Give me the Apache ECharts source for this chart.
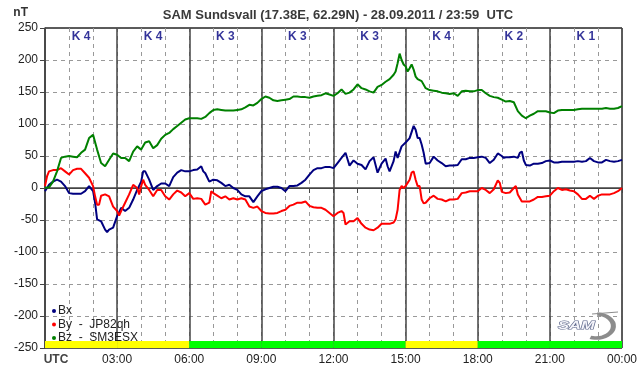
<!DOCTYPE html>
<html>
<head>
<meta charset="utf-8">
<script src="https://cdn.jsdelivr.net/npm/echarts@6/dist/echarts.min.js"></script>
<style>
  html, body { margin: 0; padding: 0; background: #fff; }
  #chart { width: 642px; height: 376px; }
</style>
</head>
<body>
<div id="chart"></div>
<script>
// minutes since 00:00 UTC, value in nT
const bxData = [[0,-5],[10,5],[20,10],[30,13],[40,10],[50,3],[60,-8],[70,-9],[80,-9],[90,-9],[100,-5],[110,3],[120,-5],[125,-23],[130,-49],[140,-52],[150,-65],[155,-69],[160,-65],[170,-62],[180,-44],[190,-31],[200,-36],[210,-31],[220,-18],[230,-3],[240,10],[245,26],[250,26],[260,13],[270,-3],[280,3],[290,7],[300,7],[310,3],[320,17],[330,24],[340,28],[350,26],[360,26],[370,28],[380,29],[390,34],[395,26],[400,23],[410,10],[420,13],[430,12],[440,8],[450,3],[460,5],[470,0],[480,-3],[490,-10],[500,-13],[510,-13],[520,-22],[530,-13],[540,-5],[550,-2],[560,0],[570,2],[580,2],[590,0],[600,-5],[610,3],[620,3],[630,4],[640,8],[650,13],[660,21],[670,28],[680,31],[690,31],[700,33],[710,33],[720,31],[730,39],[740,47],[750,55],[755,45],[760,35],[770,43],[780,38],[790,36],[800,29],[810,42],[820,48],[830,24],[840,38],[850,46],[855,34],[860,26],[870,42],[875,57],[880,47],[890,65],[900,71],[910,78],[920,97],[925,91],[930,78],[935,78],[940,68],[945,55],[950,38],[960,39],[970,49],[980,43],[990,39],[1000,34],[1010,35],[1020,35],[1030,36],[1040,45],[1050,45],[1060,47],[1070,47],[1080,48],[1090,49],[1100,47],[1110,39],[1120,44],[1130,54],[1140,50],[1145,47],[1150,48],[1160,48],[1170,49],[1180,47],[1185,55],[1190,57],[1195,43],[1200,36],[1210,35],[1220,38],[1230,38],[1240,39],[1250,42],[1260,43],[1270,40],[1280,40],[1290,41],[1300,41],[1310,41],[1320,41],[1330,42],[1340,41],[1350,42],[1360,47],[1370,42],[1380,40],[1390,40],[1400,44],[1410,42],[1420,41],[1430,42],[1440,44]];

const byData = [[0,3],[5,18],[10,26],[20,28],[30,28],[40,31],[50,26],[60,21],[70,28],[80,30],[90,30],[100,23],[110,16],[120,3],[125,-13],[130,-26],[135,-26],[140,-12],[150,-10],[160,-13],[170,-29],[180,-36],[185,-43],[190,-36],[200,-23],[210,-10],[220,5],[230,0],[235,-10],[240,3],[245,13],[250,5],[260,-3],[270,-13],[280,-3],[290,-3],[300,-13],[310,-18],[320,-10],[330,-4],[340,-7],[350,-13],[360,-8],[370,-17],[380,-16],[390,-17],[400,-26],[410,-23],[415,-5],[420,-8],[430,-12],[440,-16],[450,-13],[460,-18],[470,-16],[480,-18],[490,-16],[500,-18],[510,-29],[520,-31],[530,-29],[540,-36],[550,-39],[560,-40],[570,-40],[580,-39],[590,-36],[600,-34],[610,-28],[620,-26],[630,-23],[640,-23],[650,-21],[660,-28],[670,-30],[680,-31],[690,-31],[700,-34],[710,-39],[720,-44],[730,-39],[740,-36],[745,-39],[750,-57],[760,-52],[770,-52],[780,-47],[790,-56],[800,-62],[810,-65],[820,-66],[830,-62],[840,-56],[850,-56],[860,-56],[870,-54],[875,-49],[880,-34],[885,-3],[890,3],[895,0],[900,3],[905,8],[910,13],[915,24],[920,26],[925,13],[930,3],[935,3],[940,-18],[945,-24],[950,-23],[960,-16],[970,-12],[980,-17],[990,-18],[1000,-21],[1010,-18],[1020,-18],[1030,-17],[1040,-8],[1050,-7],[1060,-5],[1070,-5],[1080,-5],[1090,0],[1100,-3],[1110,-8],[1120,-2],[1130,12],[1135,8],[1140,-6],[1150,-8],[1160,-7],[1170,0],[1175,3],[1180,-10],[1190,-21],[1200,-21],[1210,-21],[1220,-18],[1230,-14],[1240,-14],[1250,-13],[1260,-12],[1270,-5],[1280,0],[1290,-3],[1300,-2],[1310,-4],[1320,-5],[1330,-10],[1340,-17],[1350,-17],[1360,-12],[1370,-17],[1380,-12],[1390,-10],[1400,-10],[1410,-10],[1420,-8],[1430,-5],[1440,0]];

const bzData = [[0,0],[10,1],[20,10],[30,26],[40,47],[50,49],[60,50],[70,49],[80,48],[90,55],[100,60],[110,78],[120,83],[130,60],[140,39],[150,34],[160,44],[170,54],[180,52],[190,47],[200,47],[210,42],[220,57],[230,65],[240,60],[250,71],[260,73],[270,62],[280,67],[290,77],[300,83],[310,86],[320,92],[330,97],[340,102],[350,107],[360,109],[370,109],[380,109],[390,108],[400,111],[410,117],[420,122],[430,123],[440,122],[450,121],[460,121],[470,121],[480,122],[490,123],[500,126],[510,130],[520,129],[530,133],[540,139],[550,143],[560,141],[570,137],[580,136],[590,137],[600,138],[610,139],[620,143],[630,143],[640,142],[650,142],[660,141],[670,143],[680,144],[690,145],[700,148],[710,146],[720,144],[730,148],[740,154],[750,147],[760,149],[770,154],[780,162],[790,156],[800,154],[810,151],[820,149],[830,158],[840,161],[850,166],[860,170],[870,177],[875,182],[880,195],[885,210],[890,200],[895,193],[900,190],[905,182],[910,187],[915,193],[920,185],[925,174],[930,170],[940,167],[950,156],[960,153],[970,152],[980,151],[990,149],[1000,148],[1010,147],[1020,148],[1030,144],[1040,151],[1050,152],[1060,151],[1070,151],[1080,153],[1090,153],[1100,148],[1110,144],[1120,142],[1130,141],[1140,138],[1150,135],[1160,136],[1170,134],[1180,120],[1190,113],[1200,109],[1210,113],[1220,116],[1230,120],[1240,120],[1250,120],[1260,118],[1270,117],[1280,121],[1290,122],[1300,122],[1310,122],[1320,122],[1330,123],[1340,124],[1350,124],[1360,124],[1370,124],[1380,124],[1390,124],[1400,125],[1410,124],[1420,124],[1430,125],[1440,128]];

// K index per 3-hour block
const kIndex = [4, 4, 3, 3, 3, 4, 2, 1];
const seriesNames = ['Bx', 'By', 'Bz'];
const legendLabels = { Bx: 'Bx', By: 'By  -  JP82qh', Bz: 'Bz  -  SM3ESX' };

const font = "'Liberation Sans', Arial, sans-serif";
const chart = echarts.init(document.getElementById('chart'));

function hhmm(v) {
    const h = Math.round(v / 60) % 24;
    return (h < 10 ? '0' : '') + h + ':00';
}

const option = {
    animation: false,
    backgroundColor: '#fff',
    textStyle: { fontFamily: font },
    title: {
        text: 'SAM Sundsvall (17.38E, 62.29N) - 28.09.2011 / 23:59  UTC',
        left: 333,
        top: 4,
        textAlign: 'center',
        textStyle: { fontSize: 13, fontWeight: 'bold', color: '#3a3a3a', fontFamily: font }
    },
    grid: {
        left: 45, right: 20, top: 28, bottom: 28,
        show: true, borderColor: '#444', borderWidth: 1
    },
    legend: {
        orient: 'vertical',
        left: 47,
        top: 300,
        itemWidth: 4,
        itemHeight: 4,
        itemGap: 1.5,
        icon: 'circle',
        data: seriesNames,
        formatter: function (name) { return legendLabels[name]; },
        textStyle: { fontSize: 12, color: '#222', lineHeight: 12, fontFamily: font, padding: [0, 0, 0, -3] }
    },
    xAxis: [
        {
            type: 'value', min: 0, max: 1440, interval: 60,
            axisLine: { lineStyle: { color: '#444', width: 1 } },
            axisTick: { show: true, length: 5, lineStyle: { color: '#444' } },
            axisLabel: {
                color: '#222', fontSize: 12, margin: 6, showMaxLabel: true,
                formatter: function (v) {
                    if (v === 0) return '{b|UTC}';
                    if (v % 180 !== 0) return '';
                    return hhmm(v);
                },
                rich: { b: { fontWeight: 'bold', fontSize: 12, color: '#444', padding: [0, 0, 0, 22] } }
            },
            splitLine: { show: true, lineStyle: { color: '#999', type: [4, 4], width: 1 } }
        },
        {
            type: 'value', min: 0, max: 1440, interval: 180, position: 'bottom',
            axisLine: { show: false }, axisTick: { show: false }, axisLabel: { show: false },
            splitLine: { show: true, lineStyle: { color: '#444', width: 1.5 } }
        }
    ],
    yAxis: [
        {
            type: 'value', min: -250, max: 250, interval: 50,
            name: 'nT',
            nameLocation: 'end',
            nameGap: 9,
            nameTextStyle: { fontWeight: 'bold', fontSize: 12, color: '#333', align: 'right', padding: [0, 17, 0, 0] },
            axisLine: { show: true, lineStyle: { color: '#444', width: 1.5 } },
            axisTick: { show: true, length: 5, lineStyle: { color: '#444' } },
            axisLabel: { color: '#222', fontSize: 12, margin: 7 },
            splitLine: { show: true, lineStyle: { color: '#999', type: [4, 4], width: 1 } }
        },
        {
            type: 'value', min: -250, max: 250, interval: 250, position: 'left',
            axisLine: { show: false }, axisTick: { show: false }, axisLabel: { show: false },
            splitLine: { show: true, lineStyle: { color: '#444', width: 1.5 } }
        }
    ],
    series: [
        {
            name: 'Bx', type: 'line', data: bxData, showSymbol: false, z: 5,
            color: '#000080', lineStyle: { width: 2 },
            markArea: {
                silent: true,
                data: kIndex.map(function (k, i) {
                    return [
                        { xAxis: 180 * i, yAxis: -250, itemStyle: { color: k >= 4 ? '#ffff00' : '#00ff00', opacity: 1 } },
                        { xAxis: 180 * (i + 1), yAxis: -239 }
                    ];
                })
            }
        },
        { name: 'By', type: 'line', data: byData, showSymbol: false, z: 5, color: '#ff0000', lineStyle: { width: 2 } },
        { name: 'Bz', type: 'line', data: bzData, showSymbol: false, z: 5, color: '#008000', lineStyle: { width: 2 } },
        {
            name: 'K', type: 'scatter', symbolSize: 0, silent: true,
            data: kIndex.map(function (k, i) { return [90 + 180 * i, 236, k]; }),
            label: {
                show: true, position: 'inside',
                formatter: function (p) { return 'K ' + p.value[2]; },
                color: '#000080', fontWeight: 'bold', fontSize: 12, fontFamily: font
            }
        }
    ],
    graphic: [
        {
            type: 'arc', x: 596, y: 326, scaleX: 1.45, z: 10,
            shape: { cx: 0, cy: 0, r: 12, startAngle: -1.5, endAngle: 1.9 },
            style: { stroke: '#8c8c8c', lineWidth: 3.5, fill: null }
        },
        {
            type: 'line', z: 10,
            shape: { x1: 592, y1: 314, x2: 618, y2: 312 },
            style: { stroke: '#8c8c8c', lineWidth: 1 }
        },
        {
            type: 'text', x: 558, y: 320, scaleX: 1.5, z: 11,
            style: { text: 'SAM', font: 'italic bold 11px ' + font, fill: '#f4f4fa', stroke: '#5a6488', lineWidth: 1 }
        }
    ]
};

chart.setOption(option);
</script>
</body>
</html>
